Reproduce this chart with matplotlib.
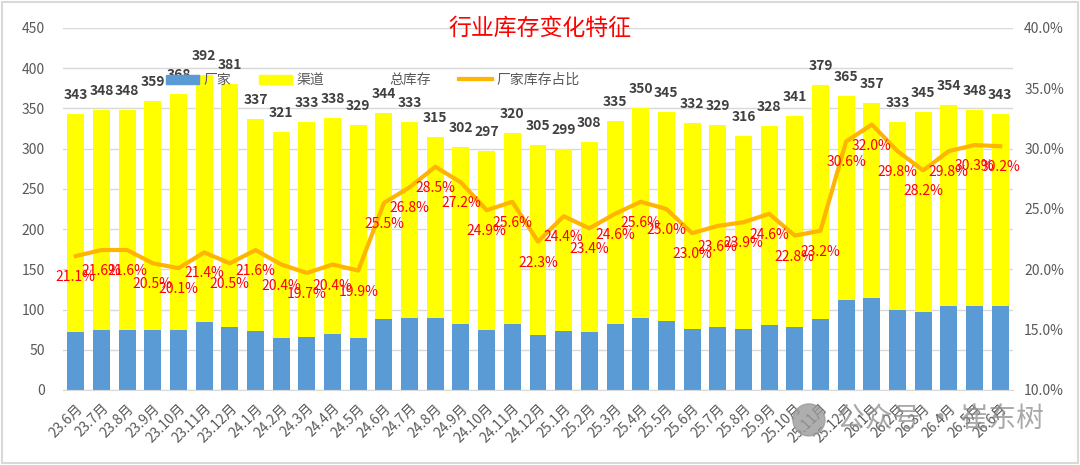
import matplotlib
matplotlib.use('Agg')
import matplotlib.pyplot as plt
from matplotlib.lines import Line2D
from matplotlib.patches import Patch, Rectangle, Ellipse
import numpy as np

plt.rcParams['font.family'] = ['Noto Sans CJK SC', 'DejaVu Sans']

months = ['23.6月', '23.7月', '23.8月', '23.9月', '23.10月', '23.11月', '23.12月',
          '24.1月', '24.2月', '24.3月', '24.4月', '24.5月', '24.6月', '24.7月', '24.8月',
          '24.9月', '24.10月', '24.11月', '24.12月', '25.1月', '25.2月', '25.3月', '25.4月',
          '25.5月', '25.6月', '25.7月', '25.8月', '25.9月', '25.10月', '25.11月', '25.12月',
          '26.1月', '26.2月', '26.3月', '26.4月', '26.5月', '26.6月']
total = [343, 348, 348, 359, 368, 392, 381, 337, 321, 333, 338, 329, 344, 333, 315,
         302, 297, 320, 305, 299, 308, 335, 350, 345, 332, 329, 316, 328, 341, 379,
         365, 357, 333, 345, 354, 348, 343]
factory = [72, 75, 75, 74, 74, 84, 78, 73, 65, 66, 69, 65, 88, 89, 90,
           82, 74, 82, 68, 73, 72, 82, 90, 86, 76, 78, 76, 81, 78, 88,
           112, 114, 99, 97, 105, 105, 104]
ratio = [21.1, 21.6, 21.6, 20.5, 20.1, 21.4, 20.5, 21.6, 20.4, 19.7, 20.4, 19.9, 25.5,
         26.8, 28.5, 27.2, 24.9, 25.6, 22.3, 24.4, 23.4, 24.6, 25.6, 25.0, 23.0, 23.6,
         23.9, 24.6, 22.8, 23.2, 30.6, 32.0, 29.8, 28.2, 29.8, 30.3, 30.2]

channel = [t - f for t, f in zip(total, factory)]
x = np.arange(len(months))

fig = plt.figure(figsize=(10.8, 4.65), dpi=100)
ax = fig.add_axes([0.0583, 0.1613, 0.8797, 0.7785])
ax2 = ax.twinx()

blue = '#5B9BD5'
yellow = '#FFFF00'
orange = '#FFB400'
grey = '#595959'

ax.bar(x, factory, width=0.66, color=blue, zorder=2)
ax.bar(x, channel, width=0.66, bottom=factory, color=yellow, zorder=2)
for xi, t in zip(x, total):
    ax.annotate(str(t), (xi, t), xytext=(0, 19), textcoords='offset pixels',
                ha='center', va='center', fontsize=10, fontweight='bold', color='#404040')

ax.set_xlim(-0.5, len(months) - 0.5)
ax.set_ylim(0, 450)
ax.set_yticks(range(0, 451, 50))
ax.grid(axis='y', color='#D9D9D9', lw=1, zorder=0)
ax.set_axisbelow(True)
ax.set_xticks(x)
ax.set_xticklabels(months, rotation=45, ha='right', va='top', rotation_mode='anchor',
                   fontsize=9, color=grey)
ax.tick_params(axis='both', length=0, colors=grey, labelsize=10)
ax.tick_params(axis='y', pad=13)
ax.tick_params(axis='x', pad=8)
for s in ['top', 'right', 'left']:
    ax.spines[s].set_visible(False)
ax.spines['bottom'].set_color('#D9D9D9')

r = [v / 100 for v in ratio]
ax2.plot(x, r, color=orange, lw=3, zorder=3)
for xi, v in zip(x, ratio):
    ax2.annotate(f'{v:.1f}%', (xi, v / 100), xytext=(0, -21), textcoords='offset pixels',
                 ha='center', va='center', fontsize=10, color='#FF0000')
ax2.set_ylim(0.10, 0.40)
ax2.set_yticks(np.arange(0.10, 0.401, 0.05))
ax2.set_yticklabels([f'{v * 100:.1f}%' for v in np.arange(0.10, 0.401, 0.05)])
ax2.tick_params(axis='y', length=0, colors=grey, labelsize=10, pad=8)
for s in ['top', 'right', 'left', 'bottom']:
    ax2.spines[s].set_visible(False)

handles = [Patch(color=blue), Patch(color=yellow),
           Line2D([], [], color='none'), Line2D([], [], color=orange, lw=3)]
labels = ['厂家', '渠道', '总库存', '厂家库存占比']
ax2.legend(handles, labels, loc='center', bbox_to_anchor=(0.326, 0.856), ncol=4,
           frameon=False, fontsize=10, labelcolor=grey, handlelength=2.4,
           handleheight=0.6, handletextpad=0.3, columnspacing=2.0)

fig.text(0.5, 0.94, '行业库存变化特征', ha='center', va='center', fontsize=16.5, color='#FF0000')

# watermark
fig.add_artist(Ellipse((0.749, 0.097), 32 / 1080, 32 / 465, transform=fig.transFigure,
                       color='#9A9A9A', alpha=0.8))
fig.text(0.871, 0.097, '公众号 · 崔东树', ha='center', va='center', fontsize=20,
         color='#8C8C8C', alpha=0.75)
fig.patches.append(Rectangle((0.002, 0.004), 0.996, 0.992, transform=fig.transFigure,
                             fill=False, edgecolor='#D9D9D9', lw=1.5))

fig.savefig('out.png', dpi=100)
